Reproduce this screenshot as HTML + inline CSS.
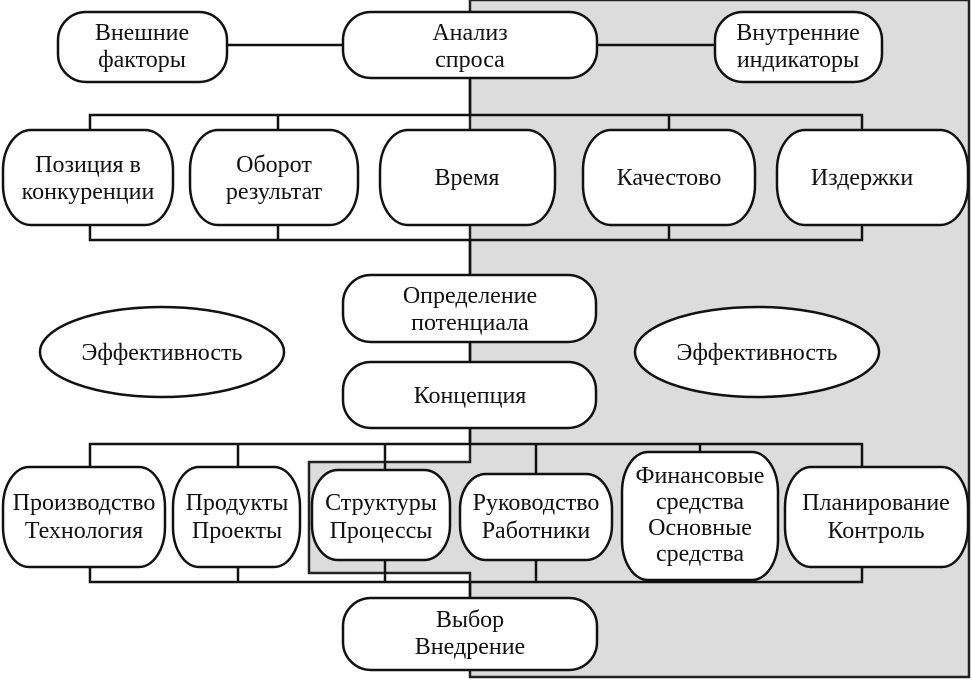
<!DOCTYPE html>
<html><head><meta charset="utf-8"><style>
html,body{margin:0;padding:0;background:#fff}
svg{display:block}
text{font-family:"Liberation Serif","DejaVu Serif",serif;font-size:24px;fill:#111;text-anchor:middle}
</style></head><body>
<svg width="972" height="680" viewBox="0 0 972 680" xmlns="http://www.w3.org/2000/svg">
<path d="M470,0 H969 V677 H470 V573 H309 V462 H470 Z" fill="#dcdcdc" stroke="#222" stroke-width="2.5"/>
<g stroke="#111" stroke-width="2.5" fill="none">
<line x1="227" y1="45" x2="715" y2="45"/>
<line x1="470" y1="78" x2="470" y2="115"/>
<path d="M90,130 V115 H862 V130 M278,115 V130 M669,115 V130"/>
<path d="M90,225 V240 H862 V225 M278,225 V240 M669,225 V240"/>
<line x1="470" y1="240" x2="470" y2="277"/>
<line x1="470" y1="340" x2="470" y2="363"/>
<line x1="470" y1="428" x2="470" y2="444"/>
<path d="M90,467 V444 H862 V467 M238,444 V467 M385,444 V470 M536,444 V474 M700,444 V452"/>
<path d="M90,567 V582 H862 V567 M238,567 V582 M385,560 V582 M536,560 V582 M700,580 V582"/>
<line x1="470" y1="582" x2="470" y2="598"/>
</g>
<g stroke="#111" stroke-width="2.5" fill="#fff">
<rect x="58" y="12" width="169" height="70" rx="28" ry="28"/>
<rect x="343" y="12" width="254" height="66" rx="28" ry="28"/>
<rect x="715" y="12" width="167" height="70" rx="28" ry="28"/>
<rect x="3" y="130" width="170" height="95" rx="28" ry="40"/>
<rect x="190" y="130" width="168" height="95" rx="28" ry="40"/>
<rect x="380" y="130" width="175" height="95" rx="28" ry="40"/>
<rect x="583" y="130" width="172" height="95" rx="28" ry="40"/>
<rect x="777" y="130" width="191" height="95" rx="28" ry="40"/>
<rect x="343" y="275" width="253" height="67" rx="28" ry="28"/>
<rect x="343" y="362" width="253" height="66" rx="28" ry="28"/>
<ellipse cx="162" cy="352" rx="122" ry="45"/>
<ellipse cx="757" cy="352" rx="122" ry="45"/>
<rect x="3" y="467" width="162" height="100" rx="26" ry="40"/>
<rect x="173" y="467" width="127" height="100" rx="26" ry="40"/>
<rect x="312" y="470" width="138" height="90" rx="26" ry="35"/>
<rect x="460" y="474" width="152" height="86" rx="26" ry="35"/>
<rect x="622" y="452" width="156" height="128" rx="26" ry="40"/>
<rect x="785" y="467" width="183" height="100" rx="26" ry="40"/>
<rect x="343" y="598" width="254" height="72" rx="28" ry="28"/>
</g>
<text x="142" y="40">Внешние</text><text x="142" y="67">факторы</text>
<text x="470" y="40">Анализ</text><text x="470" y="67">спроса</text>
<text x="798" y="40">Внутренние</text><text x="798" y="67">индикаторы</text>
<text x="88" y="172">Позиция в</text><text x="88" y="199">конкуренции</text>
<text x="274" y="172">Оборот</text><text x="274" y="199">результат</text>
<text x="467" y="185">Время</text>
<text x="669" y="185">Качестово</text>
<text x="862" y="185">Издержки</text>
<text x="470" y="303">Определение</text><text x="470" y="330">потенциала</text>
<text x="470" y="403">Концепция</text>
<text x="162" y="360">Эффективность</text>
<text x="757" y="360">Эффективность</text>
<text x="84" y="510">Производство</text><text x="84" y="538">Технология</text>
<text x="237" y="510">Продукты</text><text x="237" y="538">Проекты</text>
<text x="381" y="510">Структуры</text><text x="381" y="538">Процессы</text>
<text x="536" y="510">Руководство</text><text x="536" y="538">Работники</text>
<text x="700" y="483">Финансовые</text><text x="700" y="509">средства</text><text x="700" y="535">Основные</text><text x="700" y="561">средства</text>
<text x="876" y="510">Планирование</text><text x="876" y="538">Контроль</text>
<text x="470" y="627">Выбор</text><text x="470" y="654">Внедрение</text>
</svg>
</body></html>
